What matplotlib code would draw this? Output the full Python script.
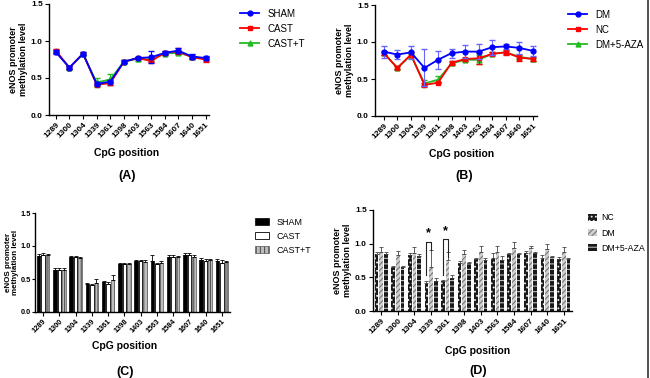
import numpy as np
import matplotlib
matplotlib.use("Agg")
import matplotlib.pyplot as plt
from matplotlib.lines import Line2D

plt.rcParams['font.family'] = ['Liberation Sans', 'DejaVu Sans']
plt.rcParams['hatch.linewidth'] = 0.8

positions = ['1289', '1300', '1304', '1339', '1361', '1398', '1403', '1563', '1584', '1607', '1640', '1651']

# panel A / C groups
sham = [0.85, 0.64, 0.83, 0.42, 0.45, 0.72, 0.77, 0.78, 0.84, 0.87, 0.79, 0.77]
sham_err = [0.03, 0.02, 0.02, 0.02, 0.02, 0.02, 0.02, 0.08, 0.02, 0.03, 0.03, 0.03]
cast = [0.87, 0.64, 0.83, 0.41, 0.43, 0.72, 0.77, 0.73, 0.84, 0.86, 0.78, 0.75]
cast_err = [0.02, 0.02, 0.02, 0.02, 0.02, 0.02, 0.02, 0.02, 0.03, 0.04, 0.03, 0.04]
castt = [0.86, 0.64, 0.82, 0.44, 0.48, 0.72, 0.76, 0.75, 0.83, 0.84, 0.79, 0.76]
castt_err = [0.02, 0.02, 0.02, 0.06, 0.08, 0.02, 0.03, 0.02, 0.02, 0.02, 0.02, 0.02]

# panel B / D groups
dm = [0.87, 0.83, 0.86, 0.65, 0.76, 0.85, 0.87, 0.87, 0.93, 0.94, 0.92, 0.88]
dm_err = [0.08, 0.06, 0.09, 0.25, 0.12, 0.06, 0.09, 0.10, 0.10, 0.03, 0.08, 0.07]
nc = [0.85, 0.65, 0.83, 0.42, 0.45, 0.72, 0.77, 0.78, 0.84, 0.86, 0.79, 0.77]
nc_err = [0.03, 0.02, 0.03, 0.02, 0.01, 0.02, 0.02, 0.08, 0.02, 0.03, 0.04, 0.03]
aza = [0.85, 0.65, 0.82, 0.44, 0.49, 0.71, 0.76, 0.76, 0.84, 0.86, 0.80, 0.77]
aza_err = [0.02, 0.02, 0.02, 0.05, 0.05, 0.02, 0.02, 0.06, 0.02, 0.02, 0.02, 0.02]

x = np.arange(len(positions))
ylab = 'eNOS promoter\nmethylation level'


def style_axis(ax, xl, fs=6, yfs=6.5):
    ax.spines['top'].set_visible(False)
    ax.spines['right'].set_visible(False)
    ax.spines['left'].set_linewidth(1.0)
    ax.spines['bottom'].set_linewidth(1.0)
    ax.set_ylim(0, 1.5)
    ax.set_yticks([0, 0.5, 1.0, 1.5])
    ax.set_yticklabels(['0.0', '0.5', '1.0', '1.5'])
    ax.set_xlim(*xl)
    ax.set_xticks(x)
    ax.set_xticklabels(positions, rotation=45, ha='right', rotation_mode='anchor')
    ax.tick_params(labelsize=fs, length=3, width=0.8, pad=1.5)
    for t in ax.get_xticklabels() + ax.get_yticklabels():
        t.set_fontweight('bold')
    ax.set_ylabel(ylab, fontsize=yfs, fontweight='bold', labelpad=2, linespacing=1.1)


def line_handles(specs):
    return [Line2D([], [], color=c, marker=m, ms=3.5, lw=1.3, label=lab) for c, m, lab in specs]


fig = plt.figure(figsize=(6.5, 3.78), dpi=100)

# ---- (A) line plot
axA = fig.add_axes([49/650, 1-115/378, 160/650, 111/378])
axA.errorbar(x, castt, yerr=castt_err, color='#22bb22', marker='^', ms=3.5, lw=1.3, capsize=2, elinewidth=0.8, zorder=2)
axA.errorbar(x, cast, yerr=cast_err, color='#ff0000', marker='s', ms=3.5, lw=1.3, capsize=2, elinewidth=0.8, zorder=3)
axA.errorbar(x, sham, yerr=sham_err, color='#0000ff', marker='o', ms=3.5, lw=1.3, capsize=2, elinewidth=0.8, zorder=4)
style_axis(axA, (-0.5, 11.25))
axA.legend(handles=line_handles([('#0000ff', 'o', 'SHAM'), ('#ff0000', 's', 'CAST'), ('#22bb22', '^', 'CAST+T')]),
           loc='upper left', bbox_to_anchor=(236/650, 1-5/378), bbox_transform=fig.transFigure,
           frameon=False, fontsize=7, handlelength=2.0, labelspacing=0.5, borderaxespad=0)
fig.text(127/650, 1-153/378, 'CpG position', ha='center', va='center', fontsize=7.5, fontweight='bold')
fig.text(127/650, 1-176/378, '(A)', ha='center', va='center', fontsize=9, fontweight='bold')

# ---- (B) line plot
axB = fig.add_axes([375/650, 1-116/378, 162/650, 111/378])
axB.errorbar(x, aza, yerr=aza_err, color='#22bb22', marker='^', ms=3.5, lw=1.3, capsize=2, elinewidth=0.8, zorder=2)
axB.errorbar(x, nc, yerr=nc_err, color='#ff0000', marker='s', ms=3.5, lw=1.3, capsize=2, elinewidth=0.8, zorder=3)
axB.errorbar(x, dm, yerr=dm_err, color='#0000ff', marker='o', ms=3.5, lw=1.3, capsize=2, elinewidth=0.8, ecolor='#6666ff', zorder=4)
style_axis(axB, (-0.65, 11.3))
axB.legend(handles=line_handles([('#0000ff', 'o', 'DM'), ('#ff0000', 's', 'NC'), ('#22bb22', '^', 'DM+5-AZA')]),
           loc='upper left', bbox_to_anchor=(564/650, 1-6/378), bbox_transform=fig.transFigure,
           frameon=False, fontsize=7, handlelength=2.0, labelspacing=0.5, borderaxespad=0)
fig.text(462/650, 1-154/378, 'CpG position', ha='center', va='center', fontsize=7.5, fontweight='bold')
fig.text(464/650, 1-176/378, '(B)', ha='center', va='center', fontsize=9, fontweight='bold')

# ---- (C) bar chart
w = 0.22
off = 0.28
axC = fig.add_axes([35/650, 1-312/378, 195/650, 99/378])
axC.bar(x - off, sham, w, color='black', edgecolor='black', lw=0.5, label='SHAM')
axC.bar(x, cast, w, color='white', edgecolor='black', lw=0.6, label='CAST')
axC.bar(x + off, castt, w, color='#bdbdbd', edgecolor='#555555', lw=0.5, hatch='||||', label='CAST+T')
for dx, vals, err in [(-off, sham, sham_err), (0, cast, cast_err), (off, castt, castt_err)]:
    axC.errorbar(x + dx, vals, yerr=[np.zeros(len(x)), err], fmt='none', ecolor='black', elinewidth=0.6, capsize=1.2, capthick=0.6)
style_axis(axC, (-0.5, 11.5), fs=5.3, yfs=5.8)
axC.yaxis.labelpad = 1
axC.tick_params(axis='y', length=2, pad=1)
axC.legend(loc='upper left', bbox_to_anchor=(251/650, 1-214/378), bbox_transform=fig.transFigure,
           frameon=False, fontsize=6.5, handlelength=1.6, handleheight=0.8, labelspacing=0.55, borderaxespad=0)
fig.text(125/650, 1-346/378, 'CpG position', ha='center', va='center', fontsize=7.5, fontweight='bold')
fig.text(125/650, 1-372/378, '(C)', ha='center', va='center', fontsize=9, fontweight='bold')

# ---- (D) bar chart
axD = fig.add_axes([373/650, 1-311/378, 199/650, 101/378])
axD.bar(x - off, nc, w, color='#1a1a1a', edgecolor='#eeeeee', lw=0, hatch='....', label='NC')
axD.bar(x, dm, w, color='#d0d0d0', edgecolor='#777777', lw=0, hatch='//////', label='DM')
axD.bar(x + off, aza, w, color='#1a1a1a', edgecolor='#bbbbbb', lw=0, hatch='---', label='DM+5-AZA')
for dx, vals, err in [(-off, nc, nc_err), (0, dm, dm_err), (off, aza, aza_err)]:
    axD.errorbar(x + dx, vals, yerr=[np.zeros(len(x)), err], fmt='none', ecolor='#444444', elinewidth=0.6, capsize=1.2, capthick=0.6)
style_axis(axD, (-0.5, 11.5))
# significance brackets
for i, top, left_end, right_end in [(3, 1.03, 0.53, 0.90), (4, 1.07, 0.53, 0.80)]:
    axD.plot([i - off, i - off, i, i], [left_end, top, top, right_end], color='#222222', lw=0.8)
    axD.text(i - off / 2, top + 0.03, '*', ha='center', va='bottom', fontsize=9, fontweight='bold')
axD.legend(loc='upper left', bbox_to_anchor=(584/650, 1-210/378), bbox_transform=fig.transFigure,
           frameon=False, fontsize=6.3, handlelength=1.1, handleheight=0.8, handletextpad=0.5,
           labelspacing=0.7, borderaxespad=0)
fig.text(478/650, 1-351/378, 'CpG position', ha='center', va='center', fontsize=7.5, fontweight='bold')
fig.text(478/650, 1-371/378, '(D)', ha='center', va='center', fontsize=9, fontweight='bold')

# right border line
fig.add_artist(Line2D([648/650, 648/650], [0, 1], color='#333333', lw=1.2, transform=fig.transFigure))

fig.savefig('out.png', dpi=100)
